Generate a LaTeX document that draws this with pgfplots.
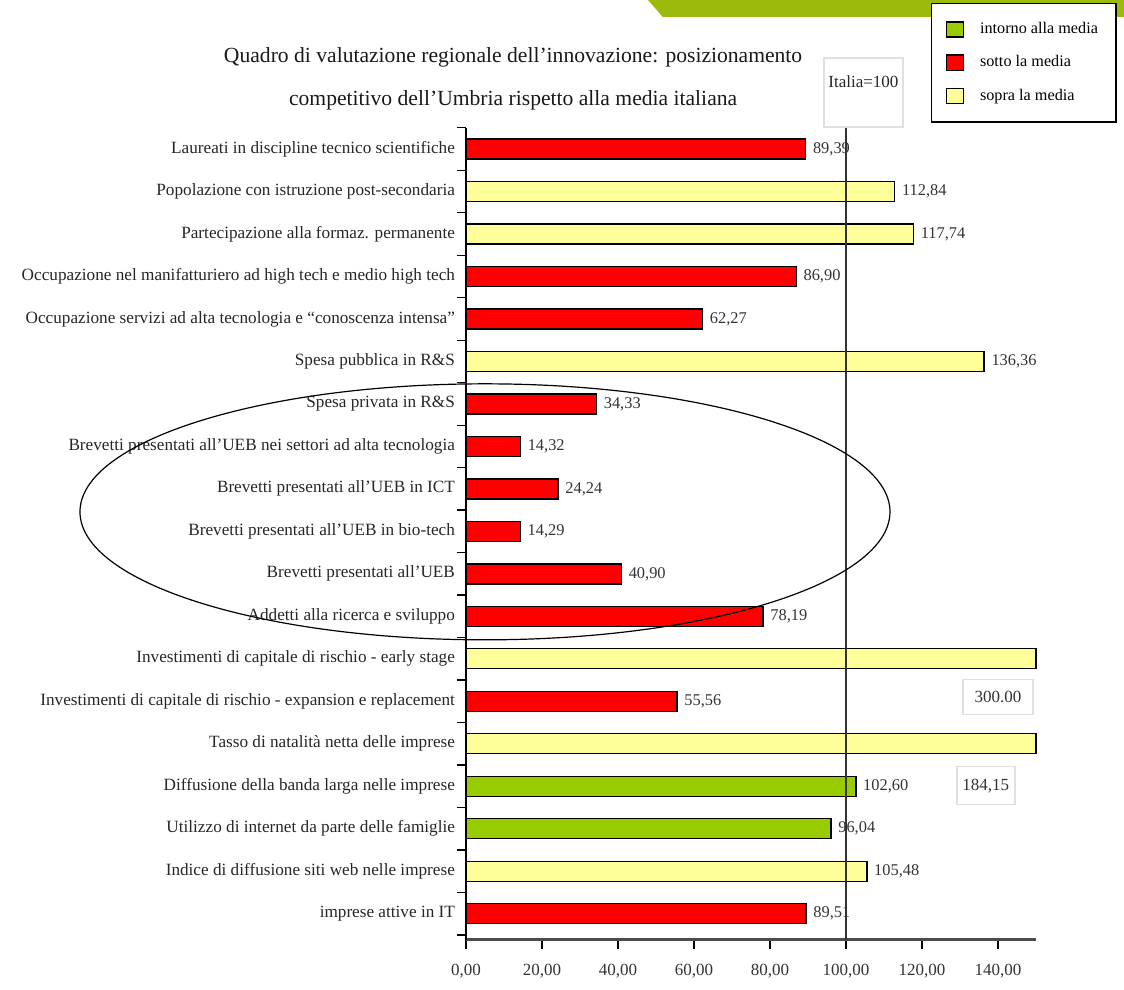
\documentclass[border=0pt]{standalone}
\usepackage{fontspec}
\setmainfont{Liberation Serif}
\usepackage{pgfplots}
\pgfplotsset{compat=1.18}
\definecolor{cRed}{HTML}{FF0000}
\definecolor{cYel}{HTML}{FFFF99}
\definecolor{cGrn}{HTML}{99CC00}
\definecolor{cBand}{HTML}{9BBB0C}
\begin{document}
\begin{tikzpicture}
\begin{axis}[
  scale only axis, width=285pt, height=406pt,
  xmin=0, xmax=150, ymin=-0.612, ymax=18.5,
  clip=false,
  axis x line=bottom, axis y line=left,
  axis line style={-},
  x axis line style={line width=1.6pt, draw=black!70},
  y axis line style={line width=0.6pt, draw=black},
  /pgf/number format/assume math mode=true,
  xbar, bar width=10pt, bar shift=0pt,
  xtick={0,20,...,140},
  tick align=outside,
  major tick length=4.5pt,
  tick style={draw=black, line width=0.6pt},
  scaled x ticks=false,
  xticklabel style={font=\fontsize{8.5}{10}\selectfont, text=black!80, yshift=-4pt,
     /pgf/number format/.cd, fixed, fixed zerofill, precision=2, use comma},
  ytick={0.5,1.5,2.5,3.5,4.5,5.5,6.5,7.5,8.5,9.5,10.5,11.5,12.5,13.5,14.5,15.5,16.5,17.5,18.5},
  extra y ticks={-0.5},
  extra y tick labels={},
  yticklabel style={font=\fontsize{8.6}{10}\selectfont, text=black!85, xshift=2.5pt, yshift=-10.62pt},
  yticklabels={imprese attive in IT,
    Indice di diffusione siti web nelle imprese,
    Utilizzo di internet da parte delle famiglie,
    Diffusione della banda larga nelle imprese,
    Tasso di natalità netta delle imprese,
    Investimenti di capitale di rischio - expansion e replacement,
    Investimenti di capitale di rischio - early stage,
    Addetti alla ricerca e sviluppo,
    Brevetti presentati all'UEB,
    Brevetti presentati all'UEB in bio-tech,
    Brevetti presentati all'UEB in ICT,
    Brevetti presentati all'UEB nei settori ad alta tecnologia,
    Spesa privata in R\&S,
    Spesa pubblica in R\&S,
    Occupazione servizi ad alta tecnologia e ``conoscenza intensa'',
    Occupazione nel manifatturiero ad high tech e medio high tech,
    Partecipazione alla formaz. permanente,
    Popolazione con istruzione post-secondaria,
    Laureati in discipline tecnico scientifiche},
  vals/.style={nodes near coords, point meta=x,
     every node near coord/.append style={font=\fontsize{8.2}{10}\selectfont, text=black!80, anchor=west},
     nodes near coords={\pgfmathprintnumber[fixed, fixed zerofill, precision=2, use comma]{\pgfplotspointmeta}}},
  legend cell align=left,
  legend image code/.code={\draw[#1, line width=0.7pt] (0pt,-3.8pt) rectangle (8.5pt,3.8pt);},
  legend style={at={(axis description cs:0.8158,1.154)}, anchor=north west,
     draw=black, line width=0.7pt, fill=white,
     font=\fontsize{8.1}{9}\selectfont, row sep=5.5pt, inner xsep=7pt, inner ysep=7.5pt},
]
\fill[cBand] (axis cs:47.9,21.506) -- (axis cs:173.16,21.506) -- (axis cs:173.16,21.106) -- (axis cs:51.8,21.106) -- cycle;
\path (axis cs:-122.63,21.506) rectangle (axis cs:173.16,-1.788);

\addplot[fill=cGrn, draw=black, line width=0.7pt, vals] coordinates {(102.60,3) (96.04,2)};
\addplot[fill=cRed, draw=black, line width=0.7pt, vals] coordinates {
  (89.39,18) (86.90,15) (62.27,14) (34.33,12) (14.32,11) (24.24,10)
  (14.29,9) (40.90,8) (78.19,7) (55.56,5) (89.51,0)};
\addplot[fill=cYel, draw=black, line width=0.7pt, vals] coordinates {
  (112.84,17) (117.74,16) (136.36,13) (105.48,1)};
\addplot[fill=cYel, draw=black, line width=0.7pt, restrict x to domain*=0:150, forget plot]
  coordinates {(300,6) (184.15,4)};
\legend{\hspace{6pt}intorno alla media, \hspace{6pt}sotto la media, \hspace{6pt}sopra la media}

\draw[black!80, line width=0.6pt] (axis cs:100,-0.612) -- (axis cs:100,18.518);
\draw[black!12, line width=0.6pt] (axis cs:94.2,20.14) rectangle (axis cs:115,18.518);
\node[font=\fontsize{8.5}{10}\selectfont, text=black!85] at (axis cs:104.6,19.576) {Italia=100};
\draw[black!12, line width=0.6pt] (axis cs:130.8,5.506) rectangle (axis cs:149.2,4.682);
\node[font=\fontsize{8.5}{10}\selectfont, text=black!80] at (axis cs:140,5.106) {300.00};
\draw[black!12, line width=0.6pt] (axis cs:129.2,3.459) rectangle (axis cs:144.5,2.565);
\node[font=\fontsize{8.5}{10}\selectfont, text=black!80] at (axis cs:136.8,3.012) {184,15};
\node[align=center, font=\fontsize{10.8}{21.5}\selectfont, text=black!90] at (axis cs:12.4,19.65)
  {Quadro di valutazione regionale dell'innovazione: posizionamento\\competitivo dell'Umbria rispetto alla media italiana};
\draw[black, line width=0.6pt] (axis cs:5,9.459) ellipse [x radius=202.5pt, y radius=64pt];
\end{axis}
\end{tikzpicture}
\end{document}
